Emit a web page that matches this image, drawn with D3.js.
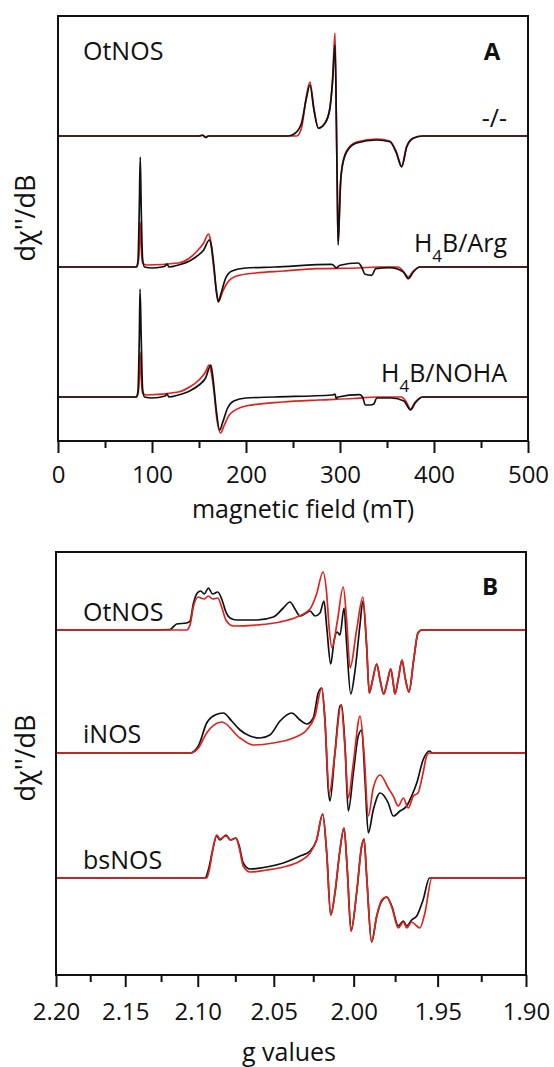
<!DOCTYPE html>
<html>
<head>
<meta charset="utf-8">
<script src="https://cdn.jsdelivr.net/npm/d3@7/dist/d3.min.js"></script>
<style>
  body { margin: 0; background: #fff; }
  svg text { font-family: "Open Sans", sans-serif; fill: #111; }
</style>
</head>
<body>
<svg id="chart" width="554" height="1067"></svg>
<script>
// ---------- panel A : field sweep (mT) ----------
const fieldTicks = [0, 100, 200, 300, 400, 500];
const fieldMinor = [50, 150, 250, 350, 450];
const panelAOffsets = [305, 174, 44]; // vertical stacking of the three spectra (a.u.)
const panelANames = [["-/-"], ["H", "4", "B/Arg"], ["H", "4", "B/NOHA"]];

// [field mT, intensity a.u.]
const minusExp = [[0,0],[150,0],[154,1],[157,-1.5],[160,0],[245,0],[252,2.5],[259,12.7],[264.5,39],[268,51],[272.3,26],[277,7.7],[284,12.7],[289,26],[292,53],[294.7,91],[296.2,10],[297.2,-60],[298,-109],[299.3,-80],[300.4,-50],[301.8,-34],[307,-16],[317.7,-7],[339,-4],[353,-5.7],[360,-17],[365.6,-31],[371,-11],[378,-2.3],[388,0],[500,0]];
const minusSim = [[0,0],[150,0],[154,0.5],[157,-1],[160,0],[254,0],[259,8],[264,38],[268,54],[272.3,27],[277,8],[284,13],[289,27],[292,56],[294.7,103],[296.2,10],[297.2,-60],[298,-105],[299.3,-80],[300.4,-50],[301.8,-34],[307,-15],[317.7,-6],[339,-3],[353,-5],[360,-16],[365.6,-30],[371,-10],[378,-2],[388,0],[500,0]];
const argExp = [[0,0],[83,0],[85,5],[86.5,60],[87.5,110],[88.5,60],[90,8],[92,0],[100,-1],[110,0],[114,1],[116,3],[118,0],[128,2],[140,6],[148,11],[155,17],[161,27],[163,22],[166,0],[168.5,-25],[170.5,-35],[173,-28],[178,-12],[185,-4],[200,-1],[230,0],[291,2.7],[294,1],[295.7,-1],[300,1.7],[319.5,4],[323,0],[326.6,-7.3],[333.7,-8.3],[338,-1.7],[353,-0.7],[367.4,-5],[372.7,-11.7],[378,-5],[385,0],[500,0]];
const argSim = [[0,0],[84,0],[86,10],[87.3,45],[88.5,20],[90,4],[94,2],[128,4],[140,9],[148,16],[155,24],[160,33],[162,28],[165,5],[168,-20],[171,-34],[175,-25],[180,-16],[190,-9],[210,-6],[240,-4],[275,-1.7],[320,-1],[340,0],[362,0],[367,-4],[372.7,-10],[378,-4],[385,0],[500,0]];
const nohaExp = [[0,0],[83,0],[85,5],[86.5,60],[87.3,108],[88.5,60],[90,8],[92,0],[100,-1],[114,1],[116,3],[118,0],[128,2],[140,6],[150,12],[157,19],[162.6,32],[165,18],[168,-10],[172,-33],[175,-26],[180,-12],[187,-4],[200,-1],[230,0],[292,2],[294.7,3],[296,-1.5],[298,0],[321,2.3],[324,0],[327,-8],[332,-8],[336,-7],[339,-1],[355,-1],[368,-4],[375,-13],[380,-6],[388,0],[500,0]];
const nohaSim = [[0,0],[84,0],[86,10],[87.3,45],[88.5,20],[90,4],[94,2],[128,5],[140,10],[150,17],[157,25],[160.8,32],[163,25],[166,5],[169,-22],[173,-36],[177,-28],[183,-17],[200,-9],[239,-5],[277,-3],[314,-1.5],[340,0],[365,0],[370,-4],[375,-12],[380,-5],[388,0],[500,0]];

// ---------- panel B : g values ----------
const gTicks = [2.20, 2.15, 2.10, 2.05, 2.00, 1.95, 1.90];
const gMinor = [2.175, 2.125, 2.075, 2.025, 1.975, 1.925];
const panelBOffsets = [345, 222, 97];
const panelBNames = ["OtNOS", "iNOS", "bsNOS"];

// [g, intensity a.u.]
const otExp = [[2.2,0],[2.1396,0],[2.1189,0.5],[2.1160,4],[2.1143,6],[2.1075,7],[2.1052,9],[2.1030,26],[2.1003,37],[2.0980,39],[2.0956,36],[2.0929,42],[2.0900,36],[2.0866,38],[2.0840,31],[2.0812,18],[2.0785,12],[2.0741,10],[2.0610,10],[2.0503,13],[2.0439,22],[2.0397,28],[2.0365,21],[2.0333,14],[2.0295,17],[2.0270,19],[2.0239,14],[2.0208,17],[2.0183,29],[2.0166,3],[2.0141,-34],[2.0121,-11],[2.0101,-2],[2.0084,-5],[2.0059,22],[2.0043,-14],[2.0018,-64],[1.9992,-41],[1.9961,6],[1.9944,29],[1.9921,-17],[1.9905,-63],[1.9885,-50],[1.9860,-34],[1.9840,-50],[1.9818,-64],[1.9797,-52],[1.9776,-39],[1.9762,-52],[1.9751,-64],[1.9730,-48],[1.9709,-30],[1.9690,-48],[1.9668,-62],[1.9640,-30],[1.9615,-3],[1.9594,0],[1.9,0]];
const otSim = [[2.2,0],[2.1075,0],[2.1052,5],[2.1030,23],[2.0996,33],[2.0980,32],[2.0956,31],[2.0929,34],[2.0900,31],[2.0866,32],[2.0840,23],[2.0812,10],[2.0763,4],[2.0610,5],[2.0460,8],[2.0354,13],[2.0270,21],[2.0229,36],[2.0189,58],[2.0166,36],[2.0150,0],[2.0133,-18],[2.0101,8],[2.0064,43],[2.0043,10],[2.0022,-38],[1.9982,0],[1.9944,33],[1.9921,-15],[1.9905,-63],[1.9885,-50],[1.9860,-34],[1.9840,-50],[1.9818,-64],[1.9797,-52],[1.9776,-39],[1.9762,-52],[1.9751,-64],[1.9730,-48],[1.9709,-30],[1.9690,-48],[1.9668,-62],[1.9640,-30],[1.9615,-3],[1.9594,0],[1.9,0]];
const iExp = [[2.2,0],[2.1052,0],[2.0996,7],[2.0940,30],[2.0884,38],[2.0829,40],[2.0774,32],[2.0719,23],[2.0654,17],[2.0589,15],[2.0525,18],[2.0460,32],[2.0386,40],[2.0333,33],[2.0291,29],[2.0250,35],[2.0219,60],[2.0197,65],[2.0177,33],[2.0156,-37],[2.0146,-48],[2.0115,0],[2.0084,47],[2.0074,48],[2.0053,7],[2.0033,-58],[2.0002,-20],[1.9972,17],[1.9951,23],[1.9931,-27],[1.9911,-80],[1.9881,-57],[1.9840,-40],[1.9791,-50],[1.9761,-63],[1.9721,-58],[1.9681,-53],[1.9652,-43],[1.9622,-30],[1.9585,-7],[1.9547,2],[1.9533,0],[1.9,0]];
const iSim = [[2.2,0],[2.1052,0],[2.0996,5],[2.0940,20],[2.0840,31],[2.0719,15],[2.0632,8],[2.0503,10],[2.0376,15],[2.0291,23],[2.0239,37],[2.0197,65],[2.0177,33],[2.0150,-40],[2.0115,0],[2.0078,48],[2.0053,5],[2.0033,-45],[2.0002,-10],[1.9961,37],[1.9937,0],[1.9911,-63],[1.9881,-35],[1.9840,-22],[1.9791,-35],[1.9761,-43],[1.9731,-53],[1.9701,-45],[1.9672,-55],[1.9642,-43],[1.9615,-40],[1.9585,-20],[1.9562,-2],[1.9547,0],[1.9,0]];
const bsExp = [[2.2,0],[2.0951,0],[2.0929,8],[2.0900,28],[2.0873,42],[2.0851,38],[2.0812,43],[2.0781,38],[2.0746,40],[2.0724,32],[2.0698,15],[2.0654,9],[2.0546,11],[2.0439,15],[2.0333,22],[2.0270,27],[2.0229,38],[2.0191,64],[2.0166,25],[2.0141,-37],[2.0115,-15],[2.0084,28],[2.0059,50],[2.0039,8],[2.0016,-53],[1.9982,-15],[1.9951,32],[1.9937,39],[1.9921,2],[1.9891,-64],[1.9860,-38],[1.9830,-23],[1.9800,-19],[1.9770,-28],[1.9731,-48],[1.9701,-43],[1.9681,-48],[1.9652,-42],[1.9622,-38],[1.9585,-22],[1.9547,0],[1.9,0]];
const bsSim = [[2.2,0],[2.0940,0],[2.0920,10],[2.0895,32],[2.0873,43],[2.0851,39],[2.0812,42],[2.0781,38],[2.0746,40],[2.0724,30],[2.0698,12],[2.0654,6],[2.0546,8],[2.0439,11],[2.0333,17],[2.0270,25],[2.0229,38],[2.0191,64],[2.0166,25],[2.0141,-37],[2.0115,-15],[2.0084,28],[2.0059,50],[2.0039,8],[2.0016,-53],[1.9982,-15],[1.9951,32],[1.9937,39],[1.9921,2],[1.9891,-64],[1.9860,-38],[1.9830,-22],[1.9800,-19],[1.9770,-29],[1.9731,-50],[1.9701,-44],[1.9681,-50],[1.9652,-44],[1.9622,-48],[1.9604,-50],[1.9574,-35],[1.9533,0],[1.9,0]];

const svg = d3.select("#chart");
const red = "#e0221c";
const black = "#111";

function drawPanel(opt) {
  const g = svg.append("g");
  const { x, y } = opt;
  const [x0, x1] = x.range();
  const [yb, yt] = y.range();

  const line = offset => d3.line()
    .x(d => x(d[0]))
    .y(d => y(d[1] + offset))
    .curve(d3.curveMonotoneX);

  opt.traces.forEach(t => {
    g.append("path")
      .datum(t.data)
      .attr("fill", "none")
      .attr("stroke", t.color)
      .attr("stroke-width", 1.7)
      .attr("stroke-linejoin", "round")
      .attr("d", line(t.offset));
  });

  // frame
  g.append("rect")
    .attr("x", x0).attr("y", yt)
    .attr("width", x1 - x0).attr("height", yb - yt)
    .attr("fill", "none").attr("stroke", "#111").attr("stroke-width", 2);

  // minor ticks
  g.append("g")
    .attr("transform", `translate(0, ${yb})`)
    .call(d3.axisBottom(x).tickValues(opt.minor).tickSize(7).tickFormat(""))
    .call(a => a.select(".domain").remove())
    .selectAll("line").attr("stroke", "#111").attr("stroke-width", 2);

  // major ticks
  const ax = g.append("g")
    .attr("transform", `translate(0, ${yb})`)
    .call(d3.axisBottom(x).tickValues(opt.ticks).tickSize(12).tickFormat(opt.format));
  ax.select(".domain").remove();
  ax.selectAll("line").attr("stroke", "#111").attr("stroke-width", 2);
  ax.selectAll("text")
    .attr("y", opt.tickBase).attr("dy", null)
    .style("font-family", "'Open Sans', sans-serif")
    .style("font-size", "24px").attr("fill", "#111");

  // axis title
  g.append("text")
    .attr("x", opt.titleX).attr("y", opt.titleY)
    .attr("text-anchor", "middle")
    .style("font-size", "25px")
    .text(opt.title);

  // y title
  g.append("text")
    .attr("transform", `translate(35, ${opt.yTitleY}) rotate(-90)`)
    .attr("text-anchor", "middle")
    .style("font-size", "27px")
    .text("dχ''/dB");

  // panel letter
  g.append("text")
    .attr("x", opt.letterX).attr("y", opt.letterY)
    .attr("text-anchor", "middle")
    .style("font-size", "24px").style("font-weight", "bold")
    .text(opt.letter);

  return g;
}

// ----- panel A -----
const xA = d3.scaleLinear().domain([0, 500]).range([58, 528]);
const yA = d3.scaleLinear().domain([0, 425]).range([441, 16]);
const gA = drawPanel({
  x: xA, y: yA,
  ticks: fieldTicks, minor: fieldMinor, format: d3.format("d"),
  tickBase: 42, title: "magnetic field (mT)", titleX: 303, titleY: 518,
  yTitleY: 218, letter: "A", letterX: 492, letterY: 60,
  traces: [
    { data: minusSim, offset: panelAOffsets[0], color: red },
    { data: minusExp, offset: panelAOffsets[0], color: black },
    { data: argSim, offset: panelAOffsets[1], color: red },
    { data: argExp, offset: panelAOffsets[1], color: black },
    { data: nohaSim, offset: panelAOffsets[2], color: red },
    { data: nohaExp, offset: panelAOffsets[2], color: black }
  ]
});

gA.append("text").attr("x", 83).attr("y", 60).style("font-size", "25px").text("OtNOS");
const nameYA = [127, 252, 382];
panelANames.forEach((parts, i) => {
  const t = gA.append("text")
    .attr("x", 507).attr("y", nameYA[i])
    .attr("text-anchor", "end")
    .style("font-size", "25px");
  if (parts.length === 1) {
    t.text(parts[0]);
  } else {
    t.append("tspan").text(parts[0]);
    t.append("tspan").attr("dy", 10).style("font-size", "17px").text(parts[1]);
    t.append("tspan").attr("dy", -10).text(parts[2]);
  }
});

// ----- panel B ----- (x is linear in field, i.e. in 1/g)
const xB = d3.scalePow().exponent(-1).domain([2.2, 1.9]).range([56, 526]);
const yB = d3.scaleLinear().domain([0, 423]).range([975, 552]);
const gB = drawPanel({
  x: xB, y: yB,
  ticks: gTicks, minor: gMinor, format: d3.format(".2f"),
  tickBase: 45, title: "g values", titleX: 289, titleY: 1061,
  yTitleY: 758, letter: "B", letterX: 490, letterY: 595,
  traces: [
    { data: otExp, offset: panelBOffsets[0], color: black },
    { data: otSim, offset: panelBOffsets[0], color: red },
    { data: iExp, offset: panelBOffsets[1], color: black },
    { data: iSim, offset: panelBOffsets[1], color: red },
    { data: bsExp, offset: panelBOffsets[2], color: black },
    { data: bsSim, offset: panelBOffsets[2], color: red }
  ]
});

const nameYB = [621, 743, 869];
panelBNames.forEach((n, i) => {
  gB.append("text").attr("x", 83).attr("y", nameYB[i]).style("font-size", "25px").text(n);
});
</script>
</body>
</html>
